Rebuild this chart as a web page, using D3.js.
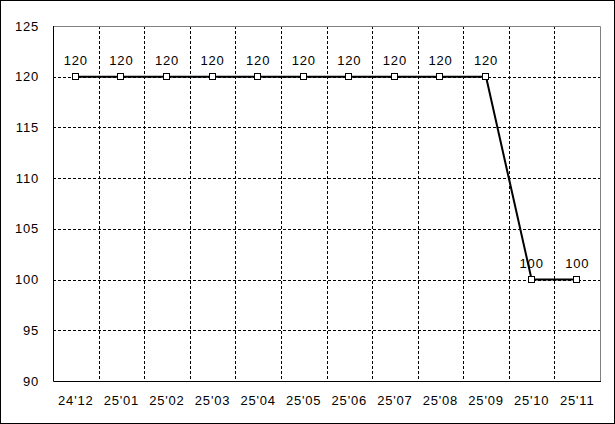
<!DOCTYPE html>
<head>
<meta charset="utf-8">
<style>
body { margin: 0; }
text { font: 13px "Liberation Sans", sans-serif; letter-spacing: 0.8px; fill: #000; }
.grid line { stroke: #000; stroke-dasharray: 3,2; shape-rendering: crispEdges; }
</style>
</head>
<body>
<script src="https://cdn.jsdelivr.net/npm/d3@7"></script>
<script>

var months = ["24'12", "25'01", "25'02", "25'03", "25'04", "25'05", "25'06", "25'07", "25'08", "25'09", "25'10", "25'11"];
var values = [120, 120, 120, 120, 120, 120, 120, 120, 120, 120, 100, 100];
var yTicks = [90, 95, 100, 105, 110, 115, 120, 125];

var width = 615, height = 424;
// plot area edges ("top" is a window global, so use other names)
var plotL = 53, plotT = 26, plotR = 600, plotB = 381;

var svg = d3.select("body").append("svg")
    .attr("width", width)
    .attr("height", height);

// outer frame
svg.append("rect")
    .attr("x", 0.5).attr("y", 0.5)
    .attr("width", width - 1).attr("height", height - 1)
    .attr("fill", "#fff").attr("stroke", "#000");

var x = d3.scaleBand().domain(months).range([plotL, plotR]);
var y = d3.scaleLinear().domain([90, 125]).range([plotB, plotT]);

var grid = svg.append("g").attr("class", "grid");

// horizontal dashed lines
grid.selectAll("line.h")
    .data(yTicks.filter(function(d) { return d > 90 && d < 125; }))
    .enter().append("line")
    .attr("class", "h")
    .attr("x1", plotL).attr("x2", plotR)
    .attr("y1", function(d) { return Math.round(y(d)) + 0.5; })
    .attr("y2", function(d) { return Math.round(y(d)) + 0.5; });

// vertical dashed lines at band edges
grid.selectAll("line.v")
    .data(months.slice(1))
    .enter().append("line")
    .attr("class", "v")
    .attr("x1", function(d) { return Math.round(x(d)) + 0.5; })
    .attr("x2", function(d) { return Math.round(x(d)) + 0.5; })
    .attr("y1", plotT).attr("y2", plotB);

// top + right border grey
svg.append("path")
    .attr("d", "M" + plotL + "," + (plotT + 0.5) + "H" + (plotR + 0.5) + "V" + plotB)
    .attr("fill", "none").attr("stroke", "#808080");

// left + bottom axis black
svg.append("path")
    .attr("d", "M" + (plotL + 0.5) + "," + plotT + "V" + (plotB + 0.5) + "H" + (plotR + 1))
    .attr("fill", "none").attr("stroke", "#000");

// y labels
svg.selectAll("text.ylab")
    .data(yTicks)
    .enter().append("text")
    .attr("class", "ylab")
    .attr("x", 39)
    .attr("y", function(d) { return y(d); })
    .attr("dy", "0.35em")
    .attr("text-anchor", "end")
    .text(function(d) { return d; });

// x labels
svg.selectAll("text.xlab")
    .data(months)
    .enter().append("text")
    .attr("class", "xlab")
    .attr("x", function(d) { return x(d) + x.bandwidth() / 2; })
    .attr("y", 400)
    .attr("dy", "0.35em")
    .attr("text-anchor", "middle")
    .text(function(d) { return d; });

var cx = function(d, i) { return x(months[i]) + x.bandwidth() / 2; };

var line = d3.line()
    .x(function(d, i) { return cx(d, i); })
    .y(function(d) { return y(d); });

svg.append("path")
    .datum(values)
    .attr("d", line)
    .attr("fill", "none")
    .attr("stroke", "#000")
    .attr("stroke-width", 2);

svg.selectAll("rect.mark")
    .data(values)
    .enter().append("rect")
    .attr("class", "mark")
    .attr("x", function(d, i) { return Math.round(cx(d, i)) - 3.5; })
    .attr("y", function(d) { return Math.round(y(d)) - 3.5; })
    .attr("width", 6).attr("height", 6)
    .attr("fill", "#fff").attr("stroke", "#000");

svg.selectAll("text.val")
    .data(values)
    .enter().append("text")
    .attr("class", "val")
    .attr("x", function(d, i) { return cx(d, i); })
    .attr("y", function(d) { return y(d) - 16; })
    .attr("dy", "0.35em")
    .attr("text-anchor", "middle")
    .text(function(d) { return d; });

</script>
</body>
</html>
